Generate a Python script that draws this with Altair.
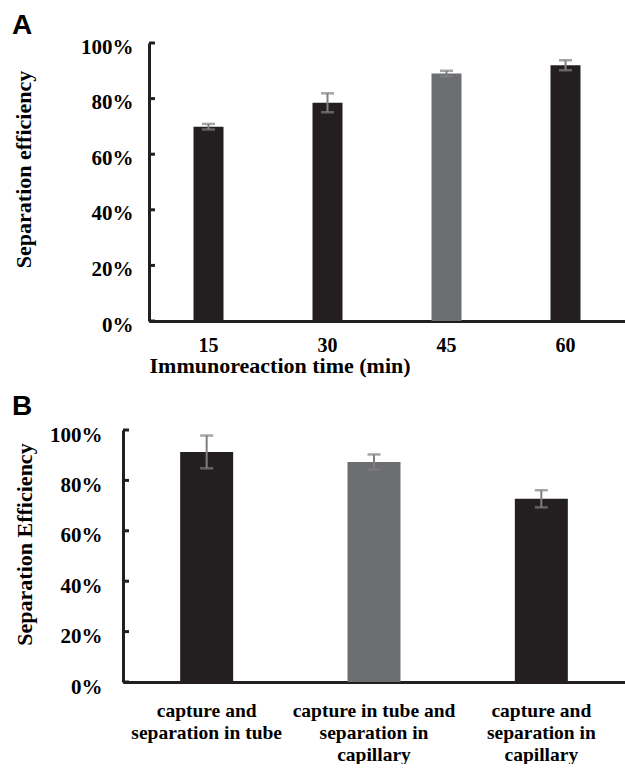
import altair as alt
import pandas as pd

# ---------------- data ----------------
times = ["15", "30", "45", "60"]
eff_a = [69.9, 78.5, 89.0, 92.0]
err_a = [1.0, 3.4, 1.0, 1.8]
shade_a = ["#231f20", "#231f20", "#6d6e71", "#231f20"]

methods = [
    "capture and\nseparation in tube",
    "capture in tube and\nseparation in\ncapillary",
    "capture and\nseparation in\ncapillary",
]
eff_b = [91.3, 87.3, 72.7]
err_b = [6.5, 3.0, 3.4]
shade_b = ["#231f20", "#6d6e71", "#231f20"]

y_ticks = [0, 20, 40, 60, 80, 100]
letter_a = ["A"]
letter_b = ["B"]

SERIF = "Liberation Serif"
SANS = "Liberation Sans"
INK = "#231f20"
ERR = "#7f7f7f"
W = 502


def make_df(cats, vals, errs, shades):
    return pd.DataFrame({
        "cat": cats,
        "eff": vals,
        "lo": [v - e for v, e in zip(vals, errs)],
        "hi": [v + e for v, e in zip(vals, errs)],
        "shade": shades,
    })


def panel(df, letter, height, x0, bar_size, x_axis, y_axis, letter_y):
    x_enc = alt.X("cat:N", sort=None,
                  scale=alt.Scale(paddingInner=0, paddingOuter=0, range=[x0, W]),
                  axis=x_axis)
    y_scale = alt.Scale(domain=[0, 100], nice=False)
    base = alt.Chart(df)
    bars = base.mark_bar(size=bar_size).encode(
        x=x_enc,
        y=alt.Y("eff:Q", scale=y_scale, axis=y_axis),
        color=alt.Color("shade:N", scale=None),
    )
    rule = base.mark_rule(color=ERR, strokeWidth=2).encode(
        x=x_enc,
        y=alt.Y("lo:Q", scale=y_scale, axis=y_axis),
        y2="hi:Q",
    )
    cap_lo = base.mark_tick(color=ERR, thickness=2.5, size=13, orient="horizontal").encode(
        x=x_enc,
        y=alt.Y("lo:Q", scale=y_scale, axis=y_axis),
    )
    cap_hi = base.mark_tick(color=ERR, thickness=2.5, size=13, orient="horizontal").encode(
        x=x_enc,
        y=alt.Y("hi:Q", scale=y_scale, axis=y_axis),
    )
    inticks = alt.Chart(pd.DataFrame({"eff": y_ticks})).mark_rule(
        color=INK, strokeWidth=3
    ).encode(
        y=alt.Y("eff:Q", scale=y_scale, axis=y_axis),
        x=alt.value(x0),
        x2=alt.value(x0 + 6),
    )
    lab = alt.Chart(pd.DataFrame({"t": letter})).mark_text(
        font=SANS, fontWeight="bold", fontSize=28, align="left",
        baseline="top", color="black",
    ).encode(text="t:N", x=alt.value(-111), y=alt.value(letter_y))
    return alt.layer(bars, rule, cap_lo, cap_hi, inticks, lab).properties(
        width=W, height=height
    )


df_a = make_df(times, eff_a, err_a, shade_a)
df_b = make_df(methods, eff_b, err_b, shade_b)

common_x = dict(
    labelAngle=0, labelFont=SERIF, labelFontWeight="bold", labelColor="black",
    ticks=False, domainColor=INK, domainWidth=3,
)
common_y = dict(
    values=y_ticks, labelExpr="datum.value + '%'", grid=False, ticks=False,
    domainColor=INK, domainWidth=3, labelFont=SERIF, labelFontWeight="bold",
    labelColor="black", labelFontSize=21, labelBaseline="middle",
    titleFont=SERIF, titleFontWeight="bold", titleColor="black", titleFontSize=22,
    titleAngle=-90, titleBaseline="bottom", titleAlign="center",
)

x_axis_a = alt.Axis(
    title="Immunoreaction time (min)", labelFontSize=20, labelPadding=14,
    titleFont=SERIF, titleFontWeight="bold", titleColor="black", titleFontSize=22,
    titleAnchor="start", titlePadding=0,
    **common_x,
)
y_axis_a = alt.Axis(
    title="Separation efficiency", labelPadding=16, labelOffset=4,
    titleX=-114, titleY=126, offset=-26, **common_y,
)

x_axis_b = alt.Axis(
    title=None, labelFontSize=19.5, labelPadding=19, labelLineHeight=22,
    labelExpr="split(datum.label, '\\n')", labelLimit=300,
    **common_x,
)
y_axis_b = alt.Axis(
    title="Separation Efficiency", labelPadding=21, labelOffset=5,
    titleX=-87, titleY=114, **common_y,
)

chart_a = panel(df_a, letter_a, 278, 26, 30, x_axis_a, y_axis_a, -31)
chart_b = panel(df_b, letter_b, 252, 0, 53, x_axis_b, y_axis_b, -37)

chart = alt.vconcat(chart_a, chart_b, spacing=17).properties(
    padding={"left": 12, "top": 12, "right": 0, "bottom": 0},
).configure_view(stroke=None)

chart.save("out.html", embed_options={"renderer": "svg", "actions": False})
